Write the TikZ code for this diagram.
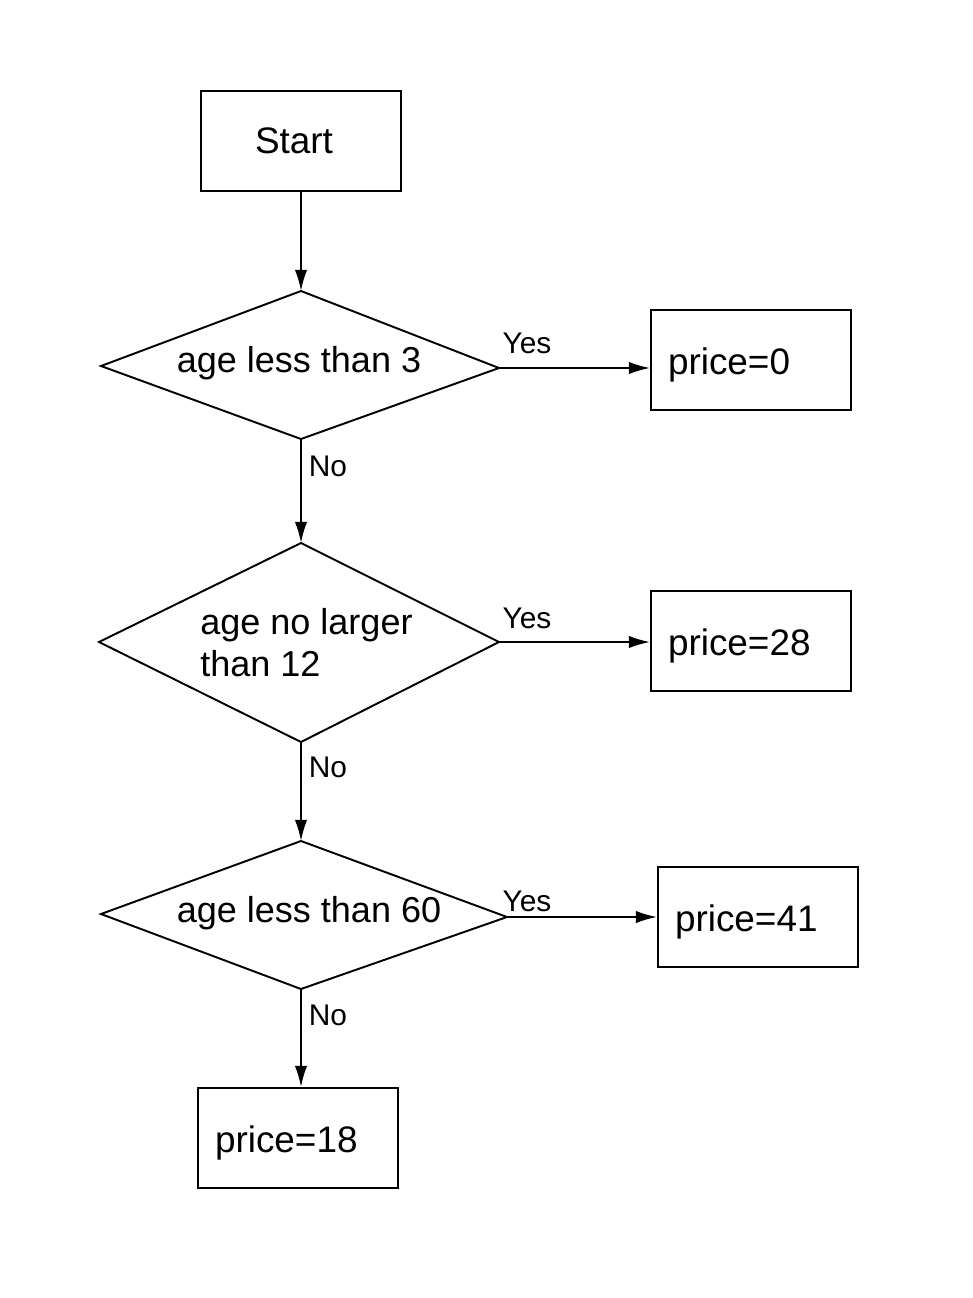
\documentclass[tikz,border=0pt]{standalone}
\usepackage{fontspec}
\setmainfont{Liberation Sans}
\usetikzlibrary{arrows.meta}
\newcommand\lowtxt[1]{\raisebox{-0.1cm}[\height][\depth]{#1}}
\begin{document}
\begin{tikzpicture}[x=0.02cm,y=-0.02cm,
  startbox/.style={draw,line width=1.1pt,minimum width=4cm,minimum height=2cm,inner sep=0pt,font=\fontsize{21}{24}\selectfont},
  pricebox/.style={draw,line width=1.1pt,minimum height=2cm,text width=3.32cm,inner xsep=0.34cm,inner ysep=0pt,align=left,font=\fontsize{21}{24}\selectfont},
  dtext/.style={inner sep=0pt,font=\fontsize{20.5}{24}\selectfont},
  dshape/.style={draw,line width=1.1pt,line join=miter},
  lbl/.style={font=\fontsize{17}{19}\selectfont,inner sep=0pt},
  arr/.style={-{Latex[length=12pt,width=7pt]},line width=1.1pt}]
\useasboundingbox (0,0) rectangle (973,1298);
% start
\node[startbox] (start) at (301,141) {\hspace*{-0.28cm}Start};
% decision 1
\coordinate (d1t) at (301,291);
\coordinate (d1b) at (301,439);
\coordinate (d1l) at (101,366);
\coordinate (d1r) at (499,368);
\draw[dshape] (d1t) -- (d1r) -- (d1b) -- (d1l) -- cycle;
\node[dtext] (t1) at (299,363) {age less than 3};
% decision 2
\coordinate (d2t) at (301,543);
\coordinate (d2b) at (301,742);
\coordinate (d2l) at (99,642);
\coordinate (d2r) at (499,642);
\draw[dshape] (d2t) -- (d2r) -- (d2b) -- (d2l) -- cycle;
\node[dtext,align=left,anchor=west] (t2) at (200,643) {age no larger\\than 12};
% decision 3
\coordinate (d3t) at (301,841);
\coordinate (d3b) at (301,989);
\coordinate (d3l) at (101,914);
\coordinate (d3r) at (507,917);
\draw[dshape] (d3t) -- (d3r) -- (d3b) -- (d3l) -- cycle;
\node[dtext] (t3) at (309,913) {age less than 60};
% results
\node[pricebox] (p0) at (751,360) {\lowtxt{price=0}};
\node[pricebox] (p28) at (751,641) {\lowtxt{price=28}};
\node[pricebox] (p41) at (758,917) {\lowtxt{price=41}};
\node[pricebox] (p18) at (298,1138) {\lowtxt{price=18}};
% connectors
\draw[arr] (start.south) -- (d1t);
\draw[arr] (d1r) -- (d1r -| p0.west);
\draw[arr] (d1b) -- (d2t);
\draw[arr] (d2r) -- (d2r -| p28.west);
\draw[arr] (d2b) -- (d3t);
\draw[arr] (d3r) -- (d3r -| p41.west);
\draw[arr] (d3b) -- (d3b |- p18.north);
% labels
\node[lbl] (y1) at (527,343) {Yes};
\node[lbl] (y2) at (527,618) {Yes};
\node[lbl] (y3) at (527,901) {Yes};
\node[lbl] (n1) at (328,466) {No};
\node[lbl] (n2) at (328,767) {No};
\node[lbl] (n3) at (328,1015) {No};
\end{tikzpicture}
\end{document}
